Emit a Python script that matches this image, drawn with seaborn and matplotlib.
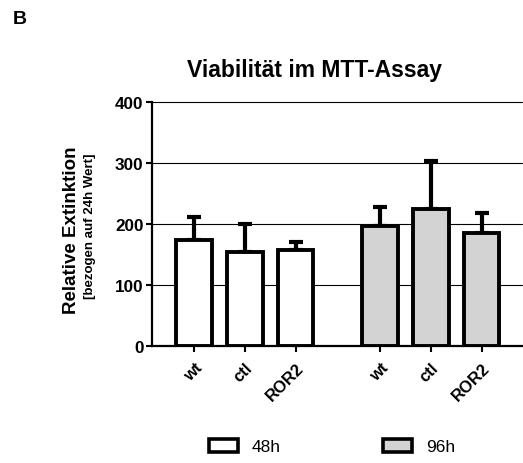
import numpy as np
import pandas as pd
import matplotlib
matplotlib.use("Agg")
import matplotlib.pyplot as plt
import seaborn as sns
from matplotlib.patches import Patch

# Cell lines and time points
lines = ["wt", "ctl", "ROR2"]
times = ["48h", "96h"]

# Relative extinction (normalised to 24h value), mean and upper SD
means_48h = [174, 154, 157]
err_48h = [38, 46, 13]
means_96h = [197, 224, 185]
err_96h = [31, 79, 33]

# x slots for the two groups of bars (gap between groups)
slots_48h = [0.0, 1.0, 2.0]
slots_96h = [3.68, 4.68, 5.68]

df = pd.DataFrame({
    "line": lines + lines,
    "time": [times[0]] * 3 + [times[1]] * 3,
    "pos": slots_48h + slots_96h,
    "value": means_48h + means_96h,
    "err": err_48h + err_96h,
})

sns.set_theme(style="white")
plt.rcParams["font.family"] = ["Liberation Sans", "DejaVu Sans"]
plt.rcParams.update({"text.color": "black", "axes.labelcolor": "black",
                     "xtick.color": "black", "ytick.color": "black"})

fig = plt.figure(figsize=(5.23, 4.64), dpi=100)
ax = fig.add_axes([0.2906, 0.2522, 0.7074, 0.5259])

palette = {"48h": "white", "96h": "#d3d3d3"}

# horizontal reference lines behind the bars
for yv in [100, 200, 300, 400]:
    ax.axhline(yv, color="black", lw=0.8, zorder=0, clip_on=False)

sns.barplot(data=df, x="pos", y="value", hue="time", native_scale=True,
            dodge=False, palette=palette, edgecolor="black", linewidth=2.8,
            width=0.71, errorbar=None, legend=False, ax=ax, zorder=3)

# upper error bars only
ax.errorbar(df["pos"], df["value"],
            yerr=[np.zeros(len(df)), df["err"]],
            fmt="none", ecolor="black", elinewidth=3.0,
            capsize=4.7, capthick=3.0, zorder=2)

ax.set_xlim(-0.84, 6.48)
ax.set_ylim(0, 400)
ax.set_yticks([0, 100, 200, 300, 400])
ax.set_xticks(df["pos"])
ax.set_xticklabels(df["line"], rotation=45, ha="right",
                   rotation_mode="anchor", fontweight="bold", fontsize=12)
for lab in ax.get_yticklabels():
    lab.set_fontweight("bold")
    lab.set_fontsize(12.3)

ax.set_xlabel("")
ax.set_ylabel("")

for side in ["top", "right"]:
    ax.spines[side].set_visible(False)
for side in ["left", "bottom"]:
    ax.spines[side].set_color("black")
    ax.spines[side].set_linewidth(1.6)

ax.tick_params(axis="both", which="major", direction="out", length=4,
               width=1.5, color="black", bottom=True, left=True,
               labelcolor="black", pad=2)
ax.tick_params(axis="x", pad=6)

# titles and axis label
fig.text(0.602, 0.848, "Viabilität im MTT-Assay", ha="center", va="center",
         fontsize=16.5, fontweight="bold")
fig.text(0.024, 0.959, "B", ha="left", va="center",
         fontsize=14, fontweight="bold")
fig.text(0.136, 0.504, "Relative Extinktion", rotation=90, ha="center",
         va="center", fontsize=13.5, fontweight="bold")
fig.text(0.172, 0.513, "[bezogen auf 24h Wert]", rotation=90, ha="center",
         va="center", fontsize=9.5, fontweight="bold")

handles = [Patch(facecolor=palette[t], edgecolor="black", linewidth=2.6,
                 joinstyle="round", label=t) for t in times]
fig.legend(handles=handles, loc="center", bbox_to_anchor=(0.635, 0.035),
           ncol=2, frameon=False, fontsize=12.5, handlelength=1.67,
           handleheight=0.75, handletextpad=0.8, columnspacing=5.9)

fig.savefig("out.png", dpi=100)
